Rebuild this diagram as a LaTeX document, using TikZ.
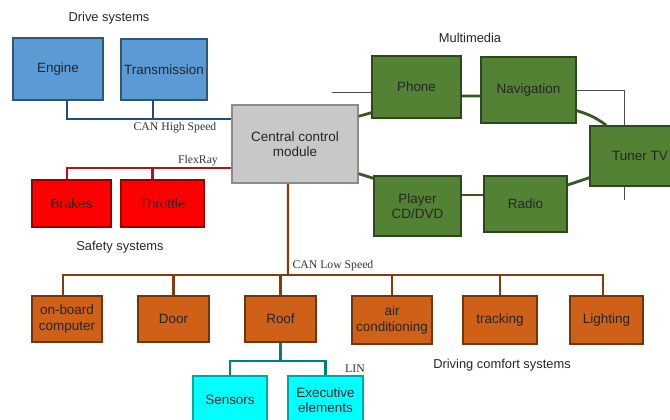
\documentclass[tikz,border=0pt]{standalone}
\usepackage{fontspec}
\setmainfont{Liberation Sans}
\newfontfamily\busfont{Liberation Serif}
\definecolor{driveblue}{RGB}{91,155,213}
\definecolor{safetyred}{RGB}{255,0,0}
\definecolor{hubgray}{RGB}{200,200,200}
\definecolor{mediagreen}{RGB}{84,130,53}
\definecolor{comfortorange}{RGB}{207,96,24}
\definecolor{lincyan}{RGB}{0,255,255}
\definecolor{highblue}{RGB}{31,78,121}
\definecolor{flexred}{RGB}{180,20,20}
\definecolor{lowbrown}{RGB}{132,60,12}
\definecolor{linteal}{RGB}{0,128,128}
\definecolor{ringgreen}{RGB}{56,87,35}
\tikzset{
  unit/.style={rectangle, draw, line width=1.2pt, align=center, inner sep=1pt,
    font=\fontsize{11.5}{13}\selectfont, text=black!85},
  drive/.style={unit, fill=driveblue, draw=driveblue!55!black},
  safety/.style={unit, fill=safetyred, draw=safetyred!60!black},
  hub/.style={unit, fill=hubgray, draw=black!45},
  media/.style={unit, fill=mediagreen, draw=mediagreen!55!black},
  comfort/.style={unit, fill=comfortorange, draw=comfortorange!55!black},
  linunit/.style={unit, fill=lincyan, draw=lincyan!65!black},
  bus/.style={line width=2pt},
  ring/.style={line width=2.4pt, ringgreen},
  frame/.style={line width=0.6pt, black!70},
  buslabel/.style={font=\busfont\fontsize{10}{12}\selectfont, inner sep=0pt, text=black!80},
  grouplabel/.style={font=\fontsize{11}{13}\selectfont, inner sep=0pt, text=black!85}
}
\begin{document}
\begin{tikzpicture}[x=0.03cm, y=-0.03cm]
\useasboundingbox (0,0) rectangle (670,420);

\node[drive, minimum width=2.7cm, minimum height=1.86cm] (engine) at (58,69) {Engine};
\node[drive, minimum width=2.58cm, minimum height=1.83cm] (trans) at (164,69.5) {Transmission};
\node[hub, minimum width=3.78cm, minimum height=2.34cm] (central) at (295,144) {Central control\\module};
\node[safety, minimum width=2.37cm, minimum height=1.41cm] (brakes) at (71.5,203.5) {Brakes};
\node[safety, minimum width=2.49cm, minimum height=1.41cm] (throttle) at (162.5,203.5) {Throttle};

\node[media, minimum width=2.67cm, minimum height=1.86cm] (phone) at (416.5,87) {Phone};
\node[media, minimum width=2.85cm, minimum height=1.98cm] (navi) at (528.5,90) {Navigation};
\node[media, minimum width=3cm, minimum height=1.8cm] (tuner) at (640,156) {Tuner TV};
\node[media, minimum width=2.61cm, minimum height=1.8cm] (player) at (417.5,206) {Player\\CD/DVD};
\node[media, minimum width=2.49cm, minimum height=1.68cm] (radio) at (525.5,204) {Radio};

\node[comfort, minimum width=2.1cm, minimum height=1.38cm] (onboard) at (67,319) {on-board\\computer};
\node[comfort, minimum width=2.13cm, minimum height=1.38cm] (door) at (173.5,319) {Door};
\node[comfort, minimum width=2.13cm, minimum height=1.38cm] (roof) at (280.5,319) {Roof};
\node[comfort, minimum width=2.4cm, minimum height=1.44cm] (aircon) at (392,320) {air\\conditioning};
\node[comfort, minimum width=2.22cm, minimum height=1.44cm] (tracking) at (500,320) {tracking};
\node[comfort, minimum width=2.19cm, minimum height=1.44cm] (lighting) at (606.5,320) {Lighting};

\node[linunit, minimum width=2.22cm, minimum height=1.44cm] (sensors) at (230,400) {Sensors};
\node[linunit, minimum width=2.25cm, minimum height=1.44cm] (executive) at (325.5,400) {Executive\\elements};

\node[grouplabel] (drivelabel) at (109,18) {Drive systems};
\node[grouplabel] (safetylabel) at (120,247) {Safety systems};
\node[grouplabel] (medialabel) at (470,38) {Multimedia};
\node[grouplabel] (comfortlabel) at (502,365) {Driving comfort systems};

\coordinate (hsbus) at (0,119);
\coordinate (frbus) at (0,168);
\coordinate (lsbus) at (288,275);
\coordinate (linbus) at (0,361);

\draw[bus, highblue] ([xshift=0.27cm]engine.south) |- (central.west |- hsbus);
\draw[bus, highblue] ([xshift=-0.33cm]trans.south) -- ([xshift=-0.33cm]trans.south |- hsbus);
\node[buslabel] (hslabel) at (175,128) {CAN High Speed};

\draw[bus, flexred] ([xshift=-0.135cm]brakes.north) |- (central.west |- frbus);
\draw[bus, flexred] ([xshift=-0.3cm]throttle.north) -- ([xshift=-0.3cm]throttle.north |- frbus);
\node[buslabel] (frlabel) at (198,161) {FlexRay};

\draw[bus, lowbrown] ([xshift=-0.21cm]central.south) -- (lsbus);
\draw[bus, lowbrown] ([xshift=-0.12cm]onboard.north) |- ([xshift=-0.1cm]lighting.north |- lsbus) -- ([xshift=-0.1cm]lighting.north);
\foreach \n in {door,roof,aircon,tracking}
  \draw[bus, lowbrown] (\n.north) -- (\n.north |- lsbus);
\node[buslabel] (lslabel) at (333,266) {CAN Low Speed};

\draw[bus, linteal] (sensors.north) |- (executive.north |- linbus) -- (executive.north);
\draw[bus, linteal] (roof.south) -- (roof.south |- linbus);
\node[buslabel] (linlabel) at (355,369) {LIN};

\draw[ring] ([yshift=-0.36cm]central.north east) -- ([yshift=0.18cm]phone.south west);
\draw[ring] ([yshift=0.3cm]central.south east) -- ([yshift=-0.09cm]player.north west);
\draw[ring] ([yshift=-0.27cm]phone.east) -- ([yshift=-0.18cm]navi.west);
\draw[ring] ([yshift=0.39cm]navi.south east) to[bend left=10] ([xshift=0.51cm]tuner.north west);
\draw[ring] ([yshift=0.33cm]player.east) -- ([yshift=0.27cm]radio.west);
\draw[ring] ([yshift=0.57cm]radio.east) -- ([yshift=0.27cm]tuner.south west);

\coordinate (frameL) at (332,92);
\coordinate (frameR) at (624,200);
\draw[frame] (frameL) -- (phone.west |- frameL);
\draw[frame] (navi.east) -| (frameR |- tuner.north);
\draw[frame] (frameR |- tuner.south) -- (frameR);
\end{tikzpicture}
\end{document}
